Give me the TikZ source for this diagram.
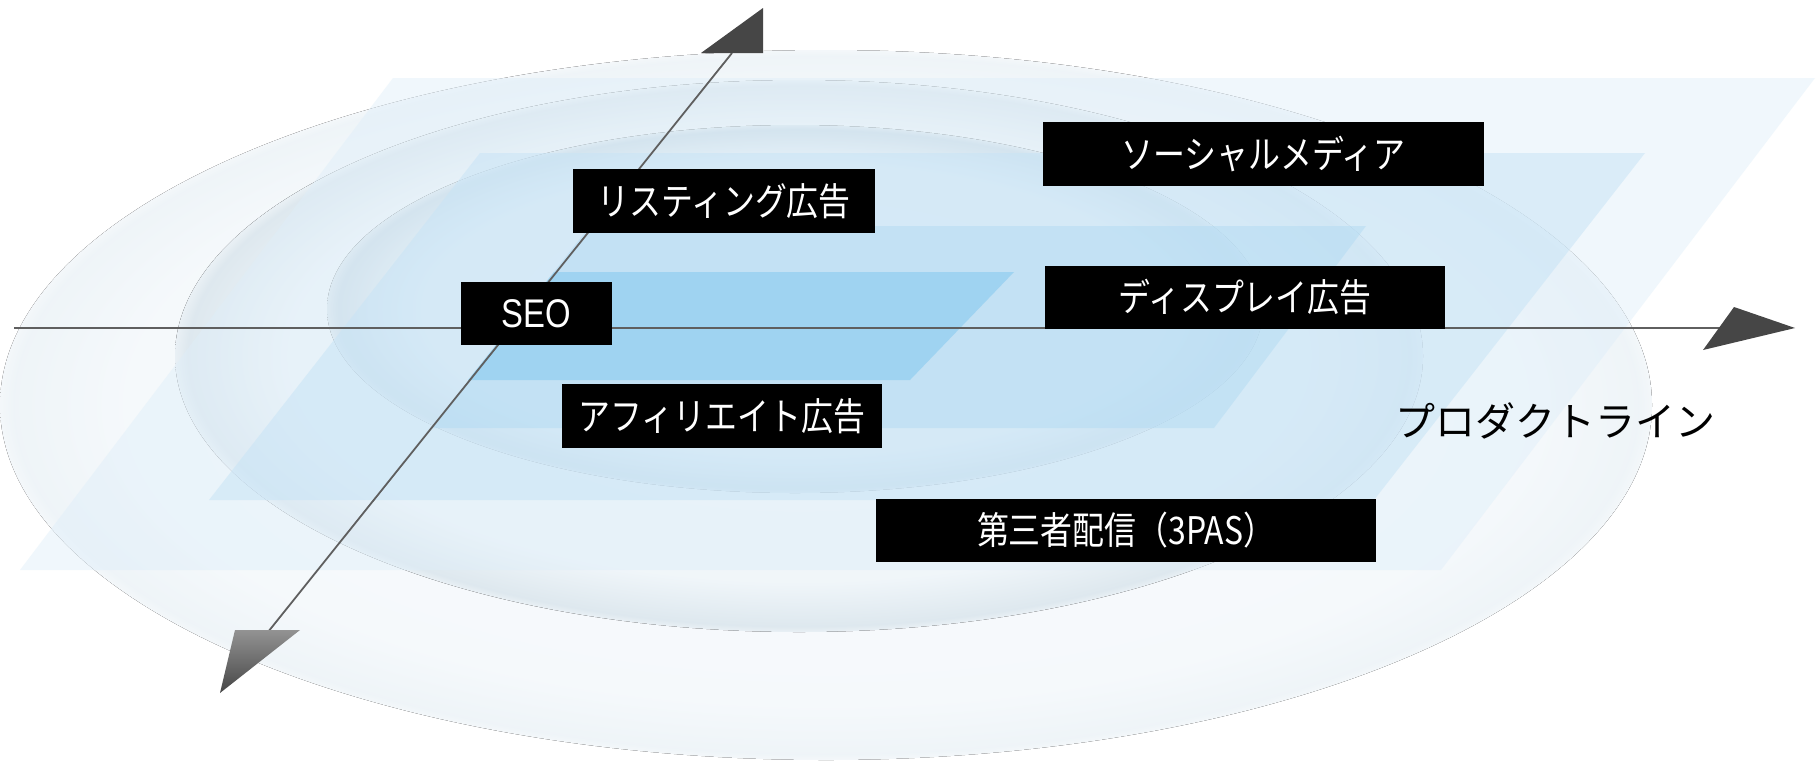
\documentclass[tikz,border=0pt]{standalone}
\usepackage{fontspec}
\setmainfont{Noto Sans CJK JP}
\newfontfamily\boxfont[FakeStretch=0.84]{Noto Sans CJK JP}
\newfontfamily\latinfont[FakeStretch=0.82]{Liberation Sans}

\pgfdeclareradialshading{dishouter}{\pgfpoint{0bp}{0bp}}{rgb(0bp)=(0.97,0.982,0.99); rgb(21bp)=(0.962,0.976,0.986); rgb(24.6bp)=(0.935,0.958,0.972); rgb(25bp)=(0.955,0.97,0.98); rgb(50bp)=(1,1,1)}
\pgfdeclareradialshading{dishmid}{\pgfpoint{0bp}{0bp}}{rgb(0bp)=(0.95,0.97,0.983); rgb(20.5bp)=(0.94,0.963,0.978); rgb(24.5bp)=(0.87,0.91,0.935); rgb(25bp)=(0.915,0.942,0.96); rgb(50bp)=(1,1,1)}
\pgfdeclareradialshading{dishin}{\pgfpoint{0bp}{0bp}}{rgb(0bp)=(0.92,0.955,0.976); rgb(20bp)=(0.92,0.953,0.974); rgb(24.4bp)=(0.8,0.865,0.905); rgb(25bp)=(0.86,0.905,0.935); rgb(50bp)=(1,1,1)}

\definecolor{axisgray}{RGB}{95,95,95}
\definecolor{headdark}{RGB}{70,70,70}
\definecolor{pOne}{RGB}{222,238,249}
\definecolor{pTwo}{RGB}{200,228,246}
\definecolor{pThree}{RGB}{178,219,243}
\definecolor{pFour}{RGB}{158,211,241}

\tikzset{
  lbl/.style={fill=black, text=white, inner sep=0pt, anchor=center,
    font=\boxfont\fontsize{19pt}{21pt}\selectfont,
    text height=15.4pt, text depth=1pt},
  axisline/.style={draw=axisgray, line width=0.9pt},
  headfill/.style={fill=headdark},
}

\begin{document}
\begin{tikzpicture}[x=0.5pt, y=-0.5pt]
\useasboundingbox (0,0) rectangle (1818,761);
\fill[white] (0,0) rectangle (1818,761);

% ellipses
\fill[shading=dishouter] (826,405) ellipse [x radius=413pt, y radius=177.5pt];
\fill[shading=dishmid] (799,356) ellipse [x radius=312pt, y radius=138pt];
\fill[shading=dishin] (795,309) ellipse [x radius=234pt, y radius=92pt];

% parallelograms
\fill[pOne, fill opacity=0.45] (393,78) -- (1815,78) -- (1441,570) -- (20,570) -- cycle;
\fill[pTwo, fill opacity=0.55] (480,153) -- (1645,153) -- (1374,500) -- (209,500) -- cycle;
\fill[pThree, fill opacity=0.5] (590,226) -- (1366,226) -- (1214,428) -- (431,428) -- cycle;
\fill[pFour, fill opacity=0.95] (554,272) -- (1014,272) -- (910,380) -- (468,380) -- cycle;

% axes
\coordinate (hxL) at (14,328);
\coordinate (hxR) at (1722,328);
\coordinate (dgB) at (268,632);
\coordinate (dgT) at (732,53);
\draw[axisline] (hxL) -- (hxR);
\draw[axisline] (dgB) -- (dgT);
\fill[headfill] (1734,307) -- (1795,328) -- (1703,350) -- cycle;
\fill[headfill] (701,53) -- (763,8) -- (763,53) -- cycle;
\shade[top color=gray!85, bottom color=headdark] (235,630) -- (300,630) -- (220,693) -- cycle;

% labels
\node[lbl, minimum width=151pt, minimum height=32pt] (listing) at (724,201) {リスティング広告};
\node[lbl, minimum width=75.5pt, minimum height=31.5pt, font=\latinfont\fontsize{20pt}{22pt}\selectfont, text height=14.3pt, text depth=0pt] (seo) at (536.5,313.5) {SEO};
\node[lbl, minimum width=160pt, minimum height=32pt] (affiliate) at (722,416) {アフィリエイト広告};
\node[lbl, minimum width=220.5pt, minimum height=32pt] (social) at (1263.5,154) {ソーシャルメディア};
\node[lbl, minimum width=200pt, minimum height=31.5pt] (display) at (1245,297.5) {ディスプレイ広告};
\node[lbl, minimum width=250pt, minimum height=31.5pt] (thirdparty) at (1126,530.5) {第三者配信（3PAS）};
\node[inner sep=0pt, font=\fontsize{20pt}{22pt}\selectfont, text height=16.2pt, text depth=1pt] (product) at (1555,421) {プロダクトライン};
\end{tikzpicture}
\end{document}
